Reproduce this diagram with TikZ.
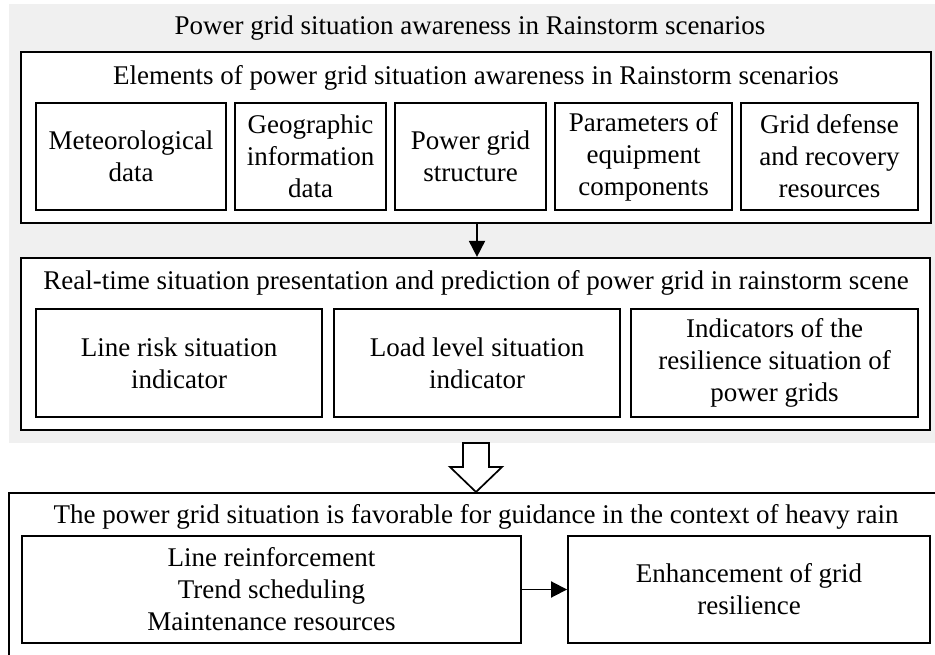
\documentclass[tikz,border=0pt]{standalone}
\usepackage{fontspec}
\setmainfont{Liberation Serif}
\usetikzlibrary{arrows.meta,calc}
\definecolor{bggray}{RGB}{240,240,240}
\tikzset{
  outerbox/.style={draw=black, line width=2.2pt, fill=white, inner sep=0pt},
  innerbox/.style={draw=black, line width=1.9pt, fill=white, inner sep=0pt, align=center, minimum height=107pt},
  label/.style={inner sep=0pt, align=center},
  conn/.style={line width=1.9pt, -{Triangle[length=16pt,width=16pt]}}
}
\begin{document}
\begin{tikzpicture}[x=1pt,y=-1pt,font=\fontsize{27}{32}\selectfont]
\useasboundingbox (0,0) rectangle (935,655);
\clip (0,0) rectangle (935,655);
\fill[bggray] (9,4) rectangle (935,443);
\node[label] (title) at (470,28) {Power grid situation awareness in Rainstorm scenarios};
% box 1
\node[outerbox, minimum width=910pt, minimum height=171pt] (b1) at (476,137.5) {};
\node[label] (h1) at (476,78) {Elements of power grid situation awareness in Rainstorm scenarios};
\node[innerbox, minimum width=190pt] (ea) at (131,156.5) {Meteorological\\data};
\node[innerbox, minimum width=151pt] (eb) at (310.5,156.5) {Geographic\\information\\data};
\node[innerbox, minimum width=151pt] (ec) at (470.5,156.5) {Power grid\\structure};
\node[innerbox, minimum width=177pt] (ed) at (643.5,156.5) {Parameters of\\equipment\\components};
\node[innerbox, minimum width=177pt] (ee) at (829.5,156.5) {Grid defense\\and recovery\\resources};
% box 2
\node[outerbox, minimum width=909pt, minimum height=172pt] (b2) at (475.5,344) {};
\node[label] (h2) at (476,283) {Real-time situation presentation and prediction of power grid in rainstorm scene};
\node[innerbox, minimum width=286pt, minimum height=108pt] (rf) at (179,363) {Line risk situation\\indicator};
\node[innerbox, minimum width=286pt, minimum height=108pt] (rg) at (477,363) {Load level situation\\indicator};
\node[innerbox, minimum width=287pt, minimum height=108pt] (rh) at (774.5,363) {Indicators of the\\resilience situation of\\power grids};
\draw[conn] (b1.south -| 477,0) -- (b2.north -| 477,0);
% hollow arrow
\coordinate (ha) at (476,443);
\draw[line width=1.7pt, fill=white, line join=miter]
  ($(ha)+(-13,0)$) -- ++(26,0) -- ++(0,24) -- ++(13,0) -- ($(ha)+(0,49)$) -- ($(ha)+(-26,24)$) -- ++(13,0) -- cycle;
% box 3
\node[outerbox, minimum width=936pt, minimum height=177pt] (b3) at (477,581.5) {};
\node[label] (h3) at (476,517) {The power grid situation is favorable for guidance in the context of heavy rain};
\node[innerbox, minimum width=499pt] (gi) at (271.5,589.5) {Line reinforcement\\Trend scheduling\\Maintenance resources};
\node[innerbox, minimum width=362pt] (gj) at (749,589.5) {Enhancement of grid\\resilience};
\draw[conn] (gi.east) -- (gj.west);
\end{tikzpicture}
\end{document}
